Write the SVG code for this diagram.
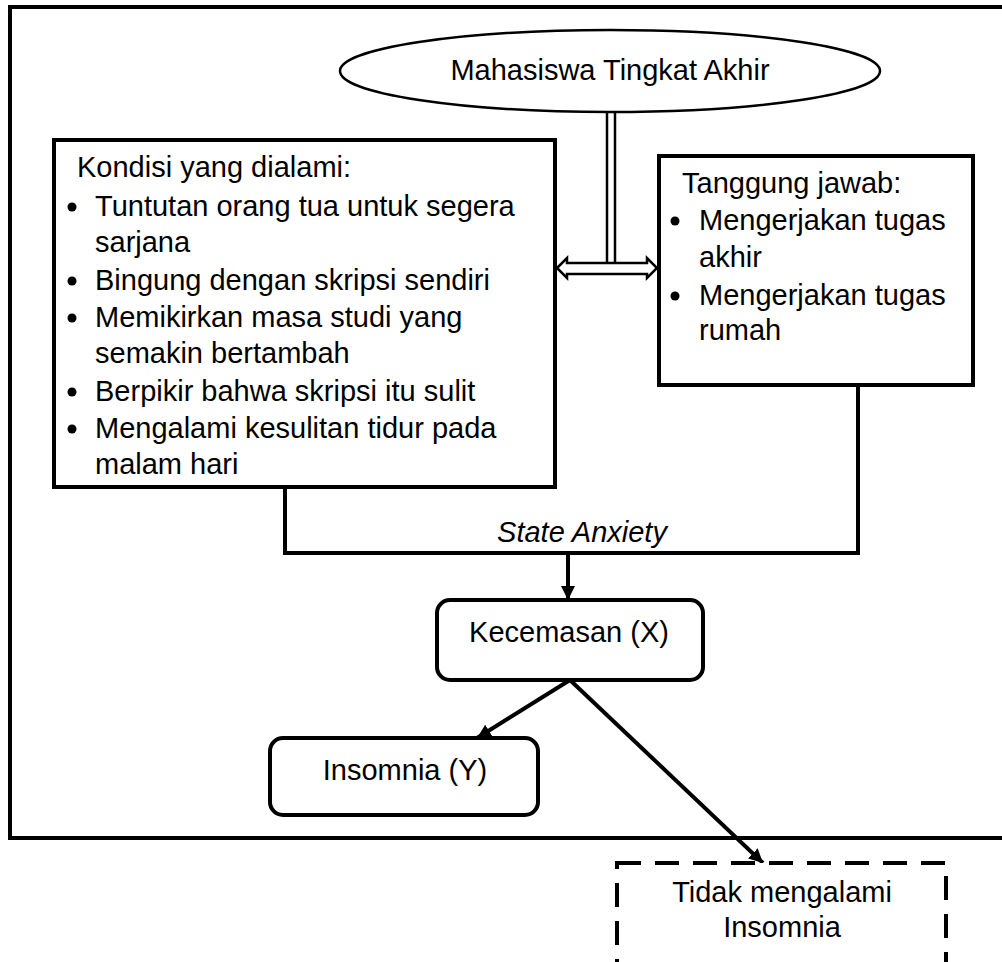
<svg xmlns="http://www.w3.org/2000/svg" width="1002" height="962" viewBox="0 0 1002 962">
<defs>
<style>
.t{font-family:"Liberation Sans",Arial,sans-serif;font-size:29px;fill:#000}
.box{fill:#fff;stroke:#000;stroke-width:4}
.ln{fill:none;stroke:#000;stroke-width:4}
.thin{fill:none;stroke:#000;stroke-width:2.5}
</style>
<marker id="ah" markerUnits="userSpaceOnUse" markerWidth="15" markerHeight="15" refX="14" refY="7" orient="auto">
<path d="M0,0 L14,7 L0,14 z" fill="#000"/>
</marker>
</defs>
<rect width="1002" height="962" fill="#fff"/>
<g id="frame"><rect x="10" y="7" width="1010" height="831" class="ln"/></g>
<g id="connectors">
<line x1="607" y1="112" x2="607" y2="263" class="thin"/>
<line x1="615" y1="112" x2="615" y2="263" class="thin"/>
<path d="M557,268 L567,258 L567,263 L647,263 L647,258 L657,268 L647,278 L647,274 L567,274 L567,278 Z" fill="#fff" stroke="#000" stroke-width="2.5"/>
<path d="M285,487 V553 H858 V385" class="ln"/>
<line x1="568" y1="553" x2="568" y2="600" class="ln" marker-end="url(#ah)"/>
<line x1="570" y1="680" x2="477" y2="738" class="ln" marker-end="url(#ah)"/>
<line x1="570" y1="680" x2="763" y2="863" class="ln" marker-end="url(#ah)"/>
<text x="582" y="542" class="t" font-style="italic" text-anchor="middle">State Anxiety</text>
</g>
<g id="mahasiswa">
<ellipse cx="610" cy="71" rx="270" ry="41" fill="#fff" stroke="#000" stroke-width="2.5"/>
<text x="610" y="80" class="t" text-anchor="middle">Mahasiswa Tingkat Akhir</text>
</g>
<g id="kondisi">
<rect x="54" y="140" width="501" height="347" class="box"/>
<text x="77" y="177" class="t">Kondisi yang dialami:</text>
<circle cx="72" cy="207" r="4.5"/>
<text x="95" y="216" class="t">Tuntutan orang tua untuk segera</text>
<text x="95" y="252" class="t">sarjana</text>
<circle cx="72" cy="281" r="4.5"/>
<text x="95" y="290" class="t">Bingung dengan skripsi sendiri</text>
<circle cx="72" cy="318" r="4.5"/>
<text x="95" y="327" class="t">Memikirkan masa studi yang</text>
<text x="95" y="363" class="t">semakin bertambah</text>
<circle cx="72" cy="392" r="4.5"/>
<text x="95" y="401" class="t">Berpikir bahwa skripsi itu sulit</text>
<circle cx="72" cy="429" r="4.5"/>
<text x="95" y="438" class="t">Mengalami kesulitan tidur pada</text>
<text x="95" y="474" class="t">malam hari</text>
</g>
<g id="tanggung">
<rect x="659" y="156" width="314" height="229" class="box"/>
<text x="682" y="193" class="t">Tanggung jawab:</text>
<circle cx="675" cy="221" r="4.5"/>
<text x="699" y="230" class="t">Mengerjakan tugas</text>
<text x="699" y="267" class="t">akhir</text>
<circle cx="675" cy="296" r="4.5"/>
<text x="699" y="305" class="t">Mengerjakan tugas</text>
<text x="699" y="340" class="t">rumah</text>
</g>
<g id="kecemasan">
<rect x="437" y="600" width="266" height="80" rx="13" class="box"/>
<text x="569" y="642" class="t" text-anchor="middle">Kecemasan (X)</text>
</g>
<g id="insomnia">
<rect x="270" y="738" width="268" height="77" rx="13" class="box"/>
<text x="405" y="780" class="t" text-anchor="middle">Insomnia (Y)</text>
</g>
<g id="tidak">
<rect x="617" y="863" width="329" height="130" fill="#fff" stroke="#000" stroke-width="4" stroke-dasharray="24,14"/>
<text x="782" y="902" class="t" text-anchor="middle">Tidak mengalami</text>
<text x="782" y="937" class="t" text-anchor="middle">Insomnia</text>
</g>
</svg>
